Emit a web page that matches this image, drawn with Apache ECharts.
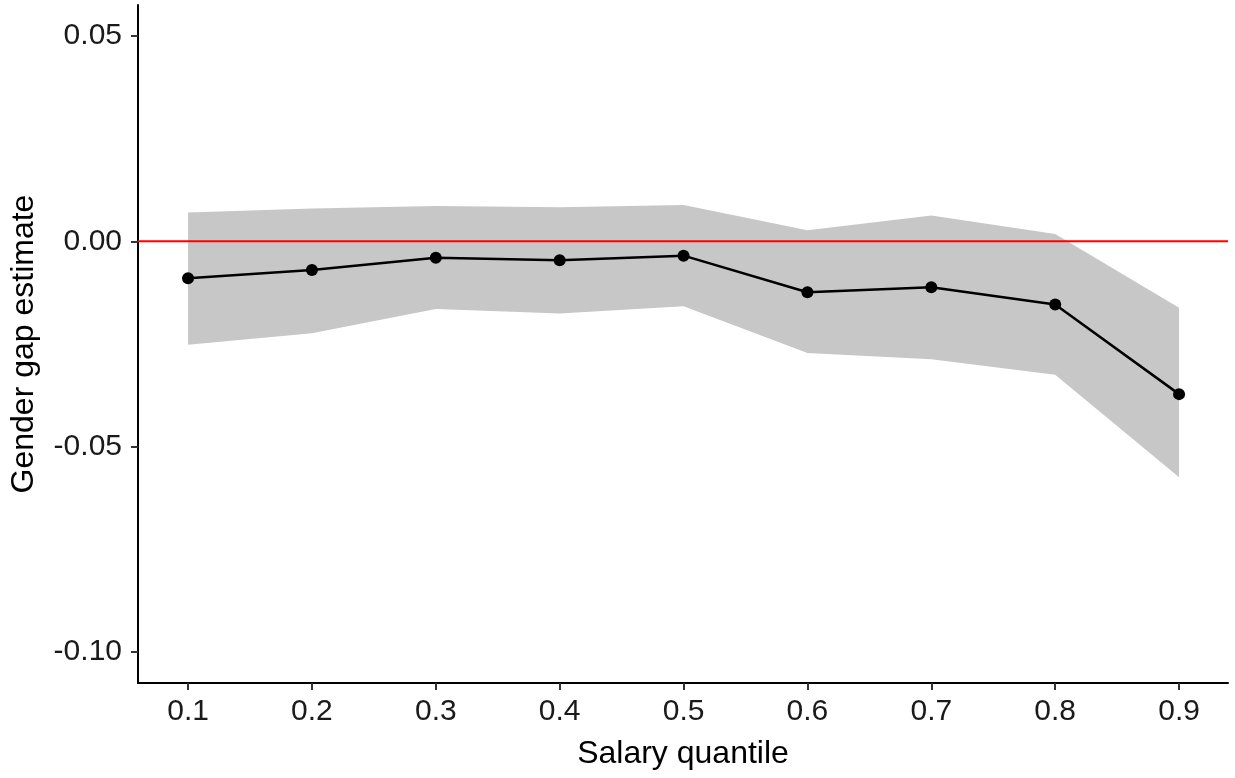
<!DOCTYPE html>
<html>
<head>
<meta charset="utf-8">
<script src="https://cdn.jsdelivr.net/npm/echarts@6/dist/echarts.min.js"></script>
<style>
html,body{margin:0;padding:0;background:#fff;}
#chart{width:1235px;height:778px;}
</style>
</head>
<body>
<div id="chart"></div>
<script>
const quantiles = [0.1, 0.2, 0.3, 0.4, 0.5, 0.6, 0.7, 0.8, 0.9];
const estimates = [-0.0090, -0.0070, -0.0040, -0.0046, -0.0035, -0.0124, -0.0112, -0.0154, -0.0372];
const upperCI = [0.0070, 0.0080, 0.0086, 0.0083, 0.0088, 0.0027, 0.0063, 0.0018, -0.0162];
const lowerCI = [-0.0252, -0.0224, -0.0165, -0.0176, -0.0158, -0.0272, -0.0287, -0.0325, -0.0574];
const xTicks = [0.1, 0.2, 0.3, 0.4, 0.5, 0.6, 0.7, 0.8, 0.9];
const yTicks = [-0.10, -0.05, 0.00, 0.05];
const refLine = 0;

const FONT = '"Liberation Sans", Arial, Helvetica, sans-serif';
const chart = echarts.init(document.getElementById('chart'), null, {renderer: 'canvas'});

chart.setOption({
  animation: false,
  backgroundColor: '#ffffff',
  grid: {left: 138, right: 7, top: 5, bottom: 95, containLabel: false},
  xAxis: {
    type: 'value',
    min: 0.0596,
    max: 0.9395,
    name: 'Salary quantile',
    nameLocation: 'middle',
    nameGap: 55,
    nameTextStyle: {fontFamily: FONT, fontSize: 32, color: '#000'},
    axisLine: {show: true, onZero: false, lineStyle: {color: '#000', width: 2}},
    axisTick: {show: true, length: 7, customValues: xTicks, lineStyle: {color: '#333', width: 2}},
    axisLabel: {customValues: xTicks, margin: 14, fontFamily: FONT, fontSize: 30, color: '#1a1a1a',
      formatter: v => v.toFixed(1)},
    splitLine: {show: false}
  },
  yAxis: {
    type: 'value',
    min: -0.1075,
    max: 0.0575,
    name: 'Gender gap estimate',
    nameLocation: 'middle',
    nameGap: 98,
    nameRotate: 90,
    nameTextStyle: {fontFamily: FONT, fontSize: 32, color: '#000'},
    axisLine: {show: true, onZero: false, lineStyle: {color: '#000', width: 2}},
    axisTick: {show: true, length: 7, customValues: yTicks, lineStyle: {color: '#333', width: 2}},
    axisLabel: {customValues: yTicks, margin: 16, fontFamily: FONT, fontSize: 30, color: '#1a1a1a',
      formatter: v => v.toFixed(2)},
    splitLine: {show: false}
  },
  series: [
    {
      type: 'custom',
      silent: true,
      z: 1,
      data: [0],
      renderItem: function (params, api) {
        const top = quantiles.map((q, i) => api.coord([q, upperCI[i]]));
        const bottom = quantiles.map((q, i) => api.coord([q, lowerCI[i]])).reverse();
        return {
          type: 'polygon',
          shape: {points: top.concat(bottom)},
          style: {fill: '#c7c7c7', stroke: null}
        };
      }
    },
    {
      type: 'line',
      z: 2,
      data: [[0.0596, refLine], [0.9395, refLine]],
      symbol: 'none',
      lineStyle: {color: '#ff0000', width: 2.2},
      silent: true
    },
    {
      type: 'line',
      z: 3,
      data: quantiles.map((q, i) => [q, estimates[i]]),
      symbol: 'circle',
      symbolSize: 12,
      itemStyle: {color: '#000'},
      lineStyle: {color: '#000', width: 2.5}
    }
  ]
});
</script>
</body>
</html>
